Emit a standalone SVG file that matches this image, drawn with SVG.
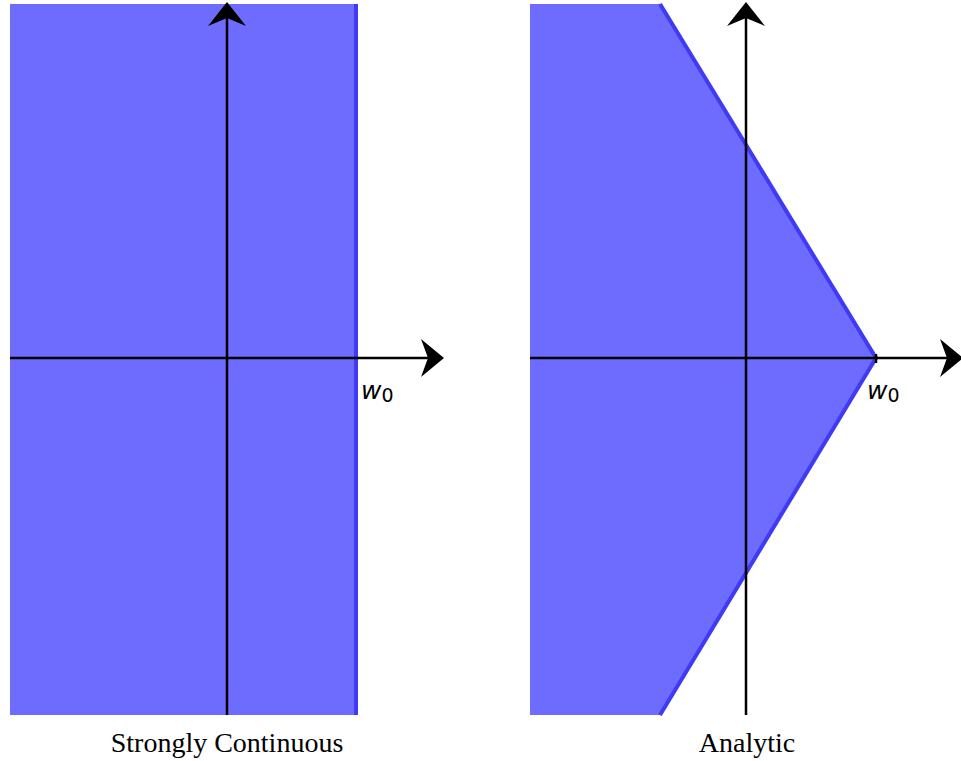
<svg xmlns="http://www.w3.org/2000/svg" width="961" height="761" viewBox="0 0 961 761">
<style>
.region{fill:#6e6bff;stroke:none}
.edge{fill:none;stroke:#3f3af5;stroke-width:4}
.axis{stroke:#000;stroke-width:2.5;fill:none}
.head{fill:#000}
.lbl{font-family:"DejaVu Sans",sans-serif;font-size:25px;font-style:italic;fill:#000}
.sub{font-family:"DejaVu Sans",sans-serif;font-size:19px;font-style:normal;fill:#000}
.cap{font-family:"Liberation Serif",serif;font-size:28px;fill:#000;text-anchor:middle}
</style>
<g id="strongly-continuous">
<rect class="region" x="10" y="4" width="348" height="711"/>
<line class="edge" x1="356" y1="4" x2="356" y2="715"/>
<text class="lbl" x="361" y="399">w<tspan class="sub" dy="3">0</tspan></text>
<text class="cap" x="227" y="752">Strongly Continuous</text>
</g>
<g id="analytic">
<polygon class="region" points="530,4 660,4 876,358 660,715 530,715"/>
<polyline class="edge" points="660,4 876,358 660,715"/>
<line class="axis" x1="876" y1="354" x2="876" y2="363"/>
<text class="lbl" x="867" y="399">w<tspan class="sub" dy="3">0</tspan></text>
<text class="cap" x="747" y="752">Analytic</text>
</g>
<g id="connectors">
<line class="axis" x1="227" y1="18" x2="227" y2="715"/>
<path class="head" d="M227,2 L246,26 L227,18 L208,26 Z"/>
<line class="axis" x1="10" y1="358" x2="428" y2="358"/>
<path class="head" d="M444,358 L421,377 L428,358 L421,339 Z"/>
<line class="axis" x1="746" y1="18" x2="746" y2="715"/>
<path class="head" d="M746,2 L765,26 L746,18 L727,26 Z"/>
<line class="axis" x1="530" y1="358" x2="947" y2="358"/>
<path class="head" d="M963,358 L940,377 L947,358 L940,339 Z"/>
</g>
</svg>
